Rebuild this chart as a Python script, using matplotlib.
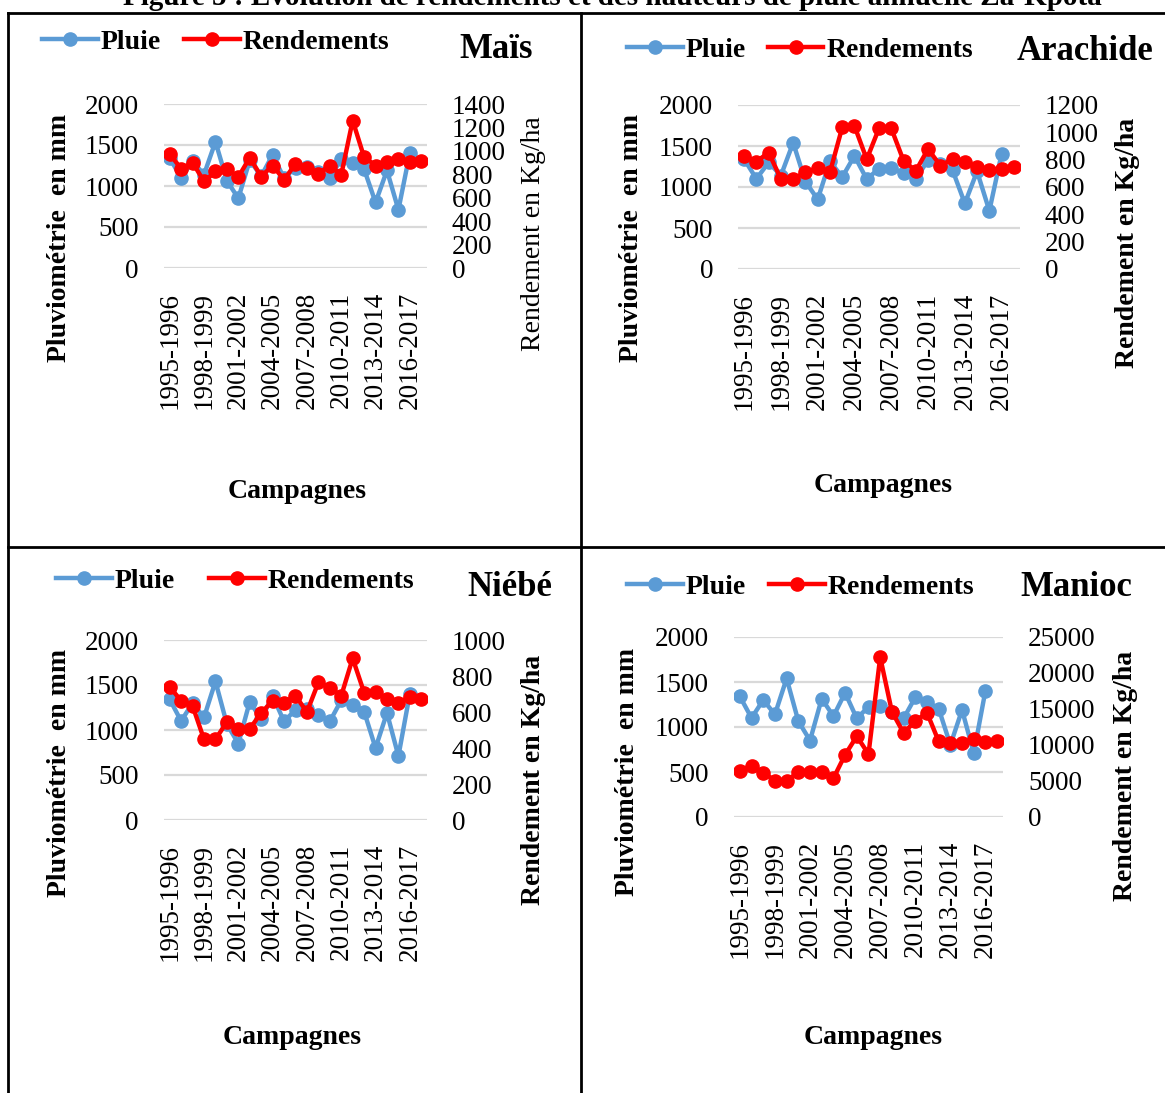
import matplotlib
matplotlib.use("Agg")
import matplotlib.pyplot as plt
from matplotlib.lines import Line2D

plt.rcParams['font.family'] = ['Liberation Serif', 'DejaVu Serif']

# campagnes agricoles
campagnes = ['%d-%d' % (y, y + 1) for y in range(1995, 2018)]
tick_idx = [0, 3, 6, 9, 12, 15, 18, 21]

# pluie annuelle (mm), 1995-1996 a 2016-2017
pluie = [1340, 1100, 1300, 1140, 1540, 1065, 850, 1315, 1120, 1380, 1095,
         1225, 1230, 1170, 1095, 1330, 1280, 1205, 800, 1190, 710, 1405]

# rendements (kg/ha)
rdt_mais = [974, 847, 900, 739, 824, 847, 776, 943, 781, 875, 753, 889,
            852, 804, 875, 795, 1259, 946, 875, 909, 932, 909, 915]
rdt_arachide = [830, 786, 852, 659, 659, 708, 737, 708, 1036, 1046, 803, 1029,
                1029, 793, 718, 878, 757, 803, 781, 749, 725, 730, 745]
rdt_niebe = [740, 662, 634, 448, 448, 545, 507, 507, 595, 662, 652, 690,
             600, 764, 736, 690, 898, 708, 712, 671, 652, 684, 671]
rdt_manioc = [6450, 7100, 6170, 5050, 5050, 6215, 6310, 6310, 5375, 8645, 11215, 8740,
              22200, 14630, 11680, 13320, 14490, 10510, 10280, 10280, 10840, 10370, 10610]

W, H = 1165, 1093
BLUE = '#5B9BD5'
RED = '#FF0000'
FS = 19.5

fig = plt.figure(figsize=(W / 100, H / 100), dpi=100)


def rect(x0, y0, x1, y1):
    return [x0 / W, 1 - y1 / H, (x1 - x0) / W, (y1 - y0) / H]


def fx(x):
    return x / W


def fy(y):
    return 1 - y / H


panels = [
    # nom, rendements, ymax droit, pas, boite axes, legende, titre, labels
    dict(name='Maïs', rdt=rdt_mais, rmax=1400, rstep=200, box=(164, 104, 427, 268),
         leg=(42, 42), colsp=0.85, title=(459, 50), yl=(60, 238), yr=(533, 234),
         rbold=False, camp=(297, 491)),
    dict(name='Arachide', rdt=rdt_arachide, rmax=1200, rstep=200, box=(738, 105, 1020, 269),
         leg=(627, 50), colsp=0.8, title=(1017, 52), yl=(632, 238), yr=(1128, 243),
         rbold=True, camp=(883, 486)),
    dict(name='Niébé', rdt=rdt_niebe, rmax=1000, rstep=200, box=(164, 640, 427, 820),
         leg=(56, 581), colsp=1.25, title=(467, 588), yl=(60, 773), yr=(533, 780),
         rbold=True, camp=(292, 1037)),
    dict(name='Manioc', rdt=rdt_manioc, rmax=25000, rstep=5000, box=(734, 637, 1003, 817),
         leg=(627, 587), colsp=0.85, title=(1020, 588), yl=(628, 772), yr=(1125, 776),
         rbold=True, camp=(873, 1037)),
]

for p in panels:
    ax = fig.add_axes(rect(*p['box']))
    ax2 = ax.twinx()
    ax.set_zorder(1)
    ax2.set_zorder(2)
    ax.patch.set_visible(False)
    ax2.patch.set_visible(False)

    l1, = ax.plot(range(len(pluie)), pluie, color=BLUE, lw=3.2, marker='o', ms=9.5,
                  solid_joinstyle='round', label='Pluie')
    l2, = ax2.plot(range(len(p['rdt'])), p['rdt'], color=RED, lw=3.2, marker='o', ms=9.5,
                   solid_joinstyle='round', label='Rendements')

    ax.set_xlim(-0.5, len(campagnes) - 0.5)
    ax.set_ylim(0, 2000)
    ax.set_yticks(range(0, 2001, 500))
    ax2.set_ylim(0, p['rmax'])
    ax2.set_yticks(range(0, p['rmax'] + 1, p['rstep']))
    ax.set_xticks(tick_idx)
    ax.set_xticklabels([campagnes[i] for i in tick_idx], rotation=90)
    ax.yaxis.grid(True, color='#D9D9D9', lw=1.6)
    ax.set_axisbelow(True)
    for a in (ax, ax2):
        for s in a.spines.values():
            s.set_visible(False)
    ax.tick_params(axis='y', length=0, pad=18, labelsize=FS)
    ax.tick_params(axis='x', length=0, pad=17, labelsize=FS)
    ax2.tick_params(axis='y', length=0, pad=18, labelsize=FS)

    fig.legend([l1, l2], ['Pluie', 'Rendements'], loc='center left',
               bbox_to_anchor=(fx(p['leg'][0]), fy(p['leg'][1])), ncol=2, frameon=False,
               borderpad=0, borderaxespad=0, handlelength=2.0, handletextpad=0.1,
               columnspacing=p['colsp'], prop={'weight': 'bold', 'size': 20})

    fig.text(fx(p['title'][0]), fy(p['title'][1]), p['name'], fontsize=25,
             fontweight='bold', ha='left', va='center')
    fig.text(fx(p['yl'][0]), fy(p['yl'][1]), 'Pluviométrie  en mm', fontsize=20,
             fontweight='bold', rotation=90, ha='center', va='center')
    fig.text(fx(p['yr'][0]), fy(p['yr'][1]), 'Rendement en Kg/ha', fontsize=20,
             fontweight='bold' if p['rbold'] else 'normal', rotation=90,
             ha='center', va='center')
    fig.text(fx(p['camp'][0]), fy(p['camp'][1]), 'Campagnes', fontsize=20,
             fontweight='bold', ha='center', va='center')

# titre de la figure (coupe en haut comme dans l'original)
fig.text(fx(612), fy(5), 'Figure 5 : Evolution de rendements et des hauteurs de pluie annuelle Za-Kpota',
         fontsize=21, fontweight='bold', ha='center', va='baseline')

# bordures du tableau
lw = 2.0
fig.add_artist(Line2D([fx(8), 1], [fy(13), fy(13)], color='black', lw=lw))
fig.add_artist(Line2D([fx(8), fx(8)], [0, fy(13)], color='black', lw=lw))
fig.add_artist(Line2D([fx(581), fx(581)], [0, fy(13)], color='black', lw=lw))
fig.add_artist(Line2D([fx(8), 1], [fy(547), fy(547)], color='black', lw=lw))

fig.savefig('out.png', dpi=100)
